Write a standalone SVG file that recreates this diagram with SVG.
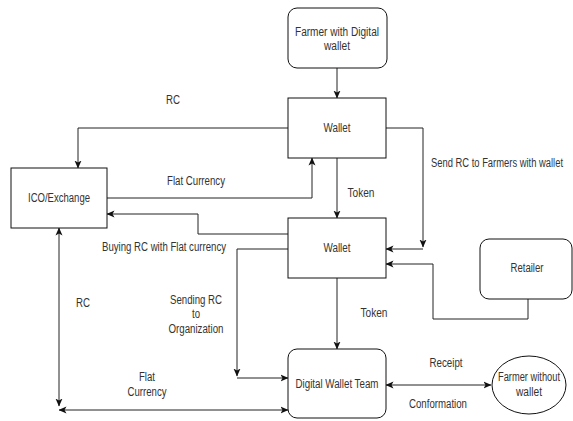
<svg xmlns="http://www.w3.org/2000/svg" width="573" height="421" viewBox="0 0 573 421">
  <defs>
    <marker id="arrow" viewBox="0 0 8 8" refX="7.5" refY="4" markerWidth="8" markerHeight="8" markerUnits="userSpaceOnUse" orient="auto-start-reverse">
      <path d="M0,0.5 L8,4 L0,7.5 L2,4 Z" fill="#111"/>
    </marker>
    <style>
      .box { fill: #fff; stroke: #111; stroke-width: 1; }
      .edge { fill: none; stroke: #222; stroke-width: 1; }
      text { font-family: "Liberation Sans", Arial, sans-serif; font-size: 12px; fill: #333; text-anchor: middle; }
    </style>
  </defs>
  <rect width="573" height="421" fill="#fff"/>

  <!-- connectors -->
  <g id="connectors">
    <path class="edge" d="M337,68 V98" marker-end="url(#arrow)"/>
    <path class="edge" d="M288,128 H78 V168" marker-end="url(#arrow)"/>
    <path class="edge" d="M107,198 H312 V158" marker-end="url(#arrow)"/>
    <path class="edge" d="M337,158 V218" marker-end="url(#arrow)"/>
    <path class="edge" d="M386,128 H423 V247" marker-end="url(#arrow)"/>
    <path class="edge" d="M423,249 H386" marker-end="url(#arrow)"/>
    <path class="edge" d="M288,234 H198 V214 H107" marker-end="url(#arrow)"/>
    <path class="edge" d="M288,249 H237 V376" marker-end="url(#arrow)"/>
    <path class="edge" d="M237,378 H288" marker-end="url(#arrow)"/>
    <path class="edge" d="M528,299 V319 H433 V264 H386" marker-end="url(#arrow)"/>
    <path class="edge" d="M337,278 V349" marker-end="url(#arrow)"/>
    <path class="edge" d="M59,406 V228" marker-start="url(#arrow)" marker-end="url(#arrow)"/>
    <path class="edge" d="M59,410 H288" marker-start="url(#arrow)" marker-end="url(#arrow)"/>
    <path class="edge" d="M386,385 H491" marker-start="url(#arrow)" marker-end="url(#arrow)"/>

    <!-- edge labels -->
    <text x="173" y="104" textLength="14" lengthAdjust="spacingAndGlyphs">RC</text>
    <text x="196" y="185" textLength="58" lengthAdjust="spacingAndGlyphs">Flat Currency</text>
    <text x="361" y="197" textLength="27" lengthAdjust="spacingAndGlyphs">Token</text>
    <text x="497" y="167" textLength="132" lengthAdjust="spacingAndGlyphs">Send RC to Farmers with wallet</text>
    <text x="164" y="251" textLength="124" lengthAdjust="spacingAndGlyphs">Buying RC with Flat currency</text>
    <text x="83" y="307" textLength="14" lengthAdjust="spacingAndGlyphs">RC</text>
    <text x="196" y="304" textLength="52" lengthAdjust="spacingAndGlyphs">Sending RC</text>
    <text x="196" y="318" textLength="8" lengthAdjust="spacingAndGlyphs">to</text>
    <text x="196" y="333" textLength="55" lengthAdjust="spacingAndGlyphs">Organization</text>
    <text x="374" y="317" textLength="27" lengthAdjust="spacingAndGlyphs">Token</text>
    <text x="147" y="381" textLength="16" lengthAdjust="spacingAndGlyphs">Flat</text>
    <text x="147" y="396" textLength="39" lengthAdjust="spacingAndGlyphs">Currency</text>
    <text x="446" y="367" textLength="33" lengthAdjust="spacingAndGlyphs">Receipt</text>
    <text x="438" y="408" textLength="58" lengthAdjust="spacingAndGlyphs">Conformation</text>
  </g>

  <g id="farmer-with-wallet">
    <rect class="box" x="288" y="8" width="99" height="60" rx="9"/>
    <text x="337" y="36" textLength="84" lengthAdjust="spacingAndGlyphs">Farmer with Digital</text>
    <text x="337" y="50" textLength="26" lengthAdjust="spacingAndGlyphs">wallet</text>
  </g>

  <g id="wallet-top">
    <rect class="box" x="288" y="98" width="98" height="60"/>
    <text x="337" y="132" textLength="27" lengthAdjust="spacingAndGlyphs">Wallet</text>
  </g>

  <g id="ico-exchange">
    <rect class="box" x="11" y="168" width="96" height="60"/>
    <text x="59" y="202" textLength="62" lengthAdjust="spacingAndGlyphs">ICO/Exchange</text>
  </g>

  <g id="wallet-bottom">
    <rect class="box" x="288" y="218" width="98" height="60"/>
    <text x="337" y="252" textLength="27" lengthAdjust="spacingAndGlyphs">Wallet</text>
  </g>

  <g id="retailer">
    <rect class="box" x="480" y="239" width="92" height="60" rx="9"/>
    <text x="527" y="272" textLength="33" lengthAdjust="spacingAndGlyphs">Retailer</text>
  </g>

  <g id="digital-wallet-team">
    <rect class="box" x="288" y="349" width="98" height="69" rx="9"/>
    <text x="337" y="388" textLength="83" lengthAdjust="spacingAndGlyphs">Digital Wallet Team</text>
  </g>

  <g id="farmer-without-wallet">
    <ellipse class="box" cx="529" cy="385" rx="37" ry="29"/>
    <text x="529" y="381" textLength="62" lengthAdjust="spacingAndGlyphs">Farmer without</text>
    <text x="529" y="396" textLength="26" lengthAdjust="spacingAndGlyphs">wallet</text>
  </g>
</svg>
